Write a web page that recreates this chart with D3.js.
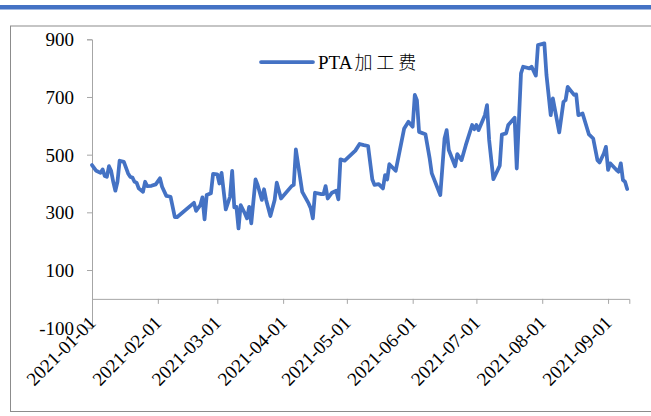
<!DOCTYPE html>
<html>
<head>
<meta charset="utf-8">
<script src="https://cdn.jsdelivr.net/npm/d3@7"></script>
<style>
  body { margin: 0; background: #fff; }
  text { font-family: "Liberation Serif", "Times New Roman", serif; fill: #000; }
</style>
</head>
<body>
<div id="chart"></div>
<script>
// data (trading days, PTA processing fee)
var dates = [
  "2021-01-01","2021-01-03","2021-01-05","2021-01-06","2021-01-07","2021-01-08","2021-01-09","2021-01-10",
  "2021-01-11","2021-01-12","2021-01-13","2021-01-14","2021-01-16","2021-01-18","2021-01-19","2021-01-20",
  "2021-01-21","2021-01-22","2021-01-23","2021-01-25","2021-01-26","2021-01-27","2021-01-29","2021-01-31",
  "2021-02-02","2021-02-03","2021-02-05","2021-02-07","2021-02-09","2021-02-10","2021-02-18","2021-02-19",
  "2021-02-21","2021-02-22","2021-02-23","2021-02-24","2021-02-26","2021-02-27",
  "2021-03-01","2021-03-02","2021-03-03","2021-03-05","2021-03-07","2021-03-08","2021-03-09","2021-03-10",
  "2021-03-11","2021-03-12","2021-03-14","2021-03-15","2021-03-16","2021-03-17","2021-03-19","2021-03-20",
  "2021-03-22","2021-03-23","2021-03-24","2021-03-26","2021-03-28","2021-03-29","2021-03-31",
  "2021-04-05","2021-04-06","2021-04-07","2021-04-10","2021-04-13","2021-04-14","2021-04-15","2021-04-16",
  "2021-04-19","2021-04-20","2021-04-21","2021-04-22","2021-04-24","2021-04-26","2021-04-27","2021-04-28","2021-04-30",
  "2021-05-05","2021-05-07","2021-05-09","2021-05-11","2021-05-13","2021-05-14","2021-05-16","2021-05-18",
  "2021-05-19","2021-05-20","2021-05-21","2021-05-24","2021-05-28","2021-05-30",
  "2021-06-01","2021-06-02","2021-06-03","2021-06-04","2021-06-07","2021-06-09","2021-06-10","2021-06-14",
  "2021-06-16","2021-06-17","2021-06-18","2021-06-21","2021-06-22","2021-06-24","2021-06-26","2021-06-29","2021-06-30",
  "2021-07-01","2021-07-02","2021-07-05","2021-07-06","2021-07-07","2021-07-09","2021-07-12","2021-07-13",
  "2021-07-15","2021-07-16","2021-07-19","2021-07-20","2021-07-22","2021-07-23","2021-07-26","2021-07-27",
  "2021-07-29","2021-07-30",
  "2021-08-02","2021-08-03","2021-08-04","2021-08-05","2021-08-06","2021-08-09","2021-08-11","2021-08-12",
  "2021-08-13","2021-08-16","2021-08-17","2021-08-18","2021-08-20","2021-08-23","2021-08-25","2021-08-27",
  "2021-08-28","2021-08-30","2021-08-31",
  "2021-09-01","2021-09-02","2021-09-05","2021-09-06","2021-09-07","2021-09-08","2021-09-09","2021-09-10"
];

var fees = [
  464, 444, 437, 449, 426, 423, 460, 444,
  406, 375, 406, 479, 475, 435, 423, 421,
  406, 403, 383, 371, 406, 391, 392, 397,
  418, 389, 357, 354, 283, 283, 333, 305,
  325, 352, 276, 360, 366, 433,
  432, 400, 437, 310, 354, 444, 317, 319,
  244, 325, 296, 279, 319, 262, 414, 395,
  343, 380, 343, 287, 343, 403, 348,
  391, 395, 518, 371, 331, 314, 279, 368,
  363, 363, 391, 348, 368, 375, 345, 484, 479,
  514, 537, 533, 530, 414, 395, 398, 383,
  429, 414, 467, 444, 591, 614,
  597, 707, 689, 579, 571, 487, 435, 360,
  556, 585, 516, 460, 502, 481, 533, 603, 588,
  603, 585, 637, 672, 551, 415, 462, 570,
  574, 603, 628, 452, 782, 805, 799, 805,
  774, 880,
  886, 776, 707, 637, 695, 577, 683, 689,
  735, 707, 709, 637, 643, 570, 556, 481,
  473, 504, 527,
  447, 470, 447, 441, 470, 412, 406, 381
];

var yTicks = [-100, 100, 300, 500, 700, 900];
var xTicks = ["2021-01-01","2021-02-01","2021-03-01","2021-04-01","2021-05-01",
              "2021-06-01","2021-07-01","2021-08-01","2021-09-01"];
var seriesName = "PTA加工费";

var svgWidth = 651;
var svgHeight = 416;
var blue = "#4472C4";
var axisGray = "#a6a6a6";

var parseDate = d3.timeParse("%Y-%m-%d");

var lineData = dates.map(function(d, i) {
  return { date: parseDate(d), value: fees[i] };
});

var svg = d3.select("#chart")
  .append("svg")
  .attr("width", svgWidth)
  .attr("height", svgHeight);

// blue strip at top
svg.append("rect")
  .attr("x", 0)
  .attr("y", 5)
  .attr("width", svgWidth)
  .attr("height", 4.5)
  .attr("fill", blue);

// chart frame (right side runs off the picture)
svg.append("rect")
  .attr("x", 10.5)
  .attr("y", 26)
  .attr("width", 660)
  .attr("height", 385.5)
  .attr("fill", "none")
  .attr("stroke", "#8c8c8c")
  .attr("stroke-width", 1);

// scales
var x = d3.scaleTime()
  .domain([parseDate("2021-01-01"), parseDate("2021-09-11")])
  .range([92, 629.3]);

var y = d3.scaleLinear()
  .domain([-100, 900])
  .range([327.7, 39.3]);

// y axis (plain hyphen for negative numbers)
var yAxis = svg.append("g")
  .attr("transform", "translate(92,0)")
  .call(d3.axisLeft(y)
    .tickValues(yTicks)
    .tickSize(5)
    .tickPadding(13)
    .tickFormat(function(d) { return String(d); }));

yAxis.select(".domain").attr("stroke", axisGray);
yAxis.selectAll(".tick line").attr("stroke", axisGray);
yAxis.selectAll(".tick text")
  .attr("font-size", "19px")
  .attr("font-family", "Liberation Serif, serif")
  .attr("dy", "0.35em");

// x axis sits at y = 0
var xAxis = svg.append("g")
  .attr("transform", "translate(0," + y(0) + ")")
  .call(d3.axisBottom(x).tickValues(xTicks.map(parseDate)).tickSize(5).tickFormat(""));

xAxis.select(".domain").attr("stroke", axisGray);
xAxis.selectAll(".tick line").attr("stroke", axisGray);

// x labels below the -100 line, rotated
svg.append("g")
  .selectAll("text")
  .data(xTicks)
  .enter()
  .append("text")
  .attr("transform", function(d) {
    return "translate(" + (x(parseDate(d)) + 5) + ",324) rotate(-45)";
  })
  .attr("text-anchor", "end")
  .attr("font-size", "19px")
  .text(function(d) { return d; });

// the series line
var line = d3.line()
  .x(function(d) { return x(d.date); })
  .y(function(d) { return y(d.value); });

svg.append("path")
  .datum(lineData)
  .attr("d", line)
  .attr("fill", "none")
  .attr("stroke", blue)
  .attr("stroke-width", 3.75)
  .attr("stroke-linejoin", "round")
  .attr("stroke-linecap", "round");

// legend
svg.append("line")
  .attr("x1", 261)
  .attr("x2", 313)
  .attr("y1", 62)
  .attr("y2", 62)
  .attr("stroke", blue)
  .attr("stroke-width", 3.75)
  .attr("stroke-linecap", "round");

var legendText = svg.append("text")
  .attr("x", 318)
  .attr("y", 68.5)
  .attr("font-size", "19px");

legendText.append("tspan").text(seriesName.slice(0, 3));
legendText.append("tspan")
  .style("font-family", "'Noto Sans CJK SC', sans-serif")
  .style("font-size", "18px")
  .style("font-weight", "300")
  .attr("dx", 2)
  .attr("letter-spacing", "4px")
  .text(seriesName.slice(3));
</script>
</body>
</html>
